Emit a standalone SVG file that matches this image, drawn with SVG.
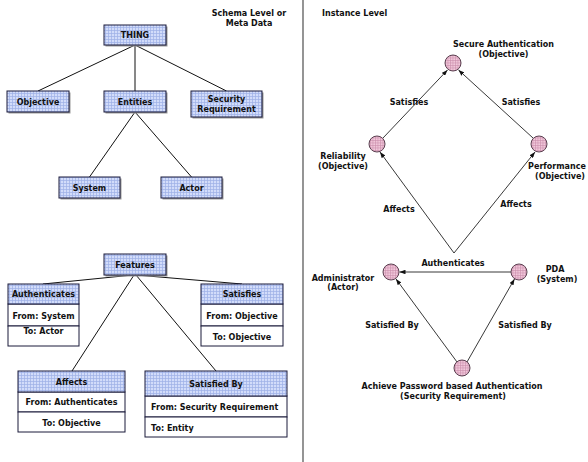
<svg xmlns="http://www.w3.org/2000/svg" width="588" height="462" viewBox="0 0 588 462">
  <style>
    text { font-family: "DejaVu Sans", Verdana, sans-serif; font-size: 8px; font-weight: bold; fill: #111; }
    .c { text-anchor: middle; }
    .box { fill: url(#bluegrid); stroke: #1a1a3a; stroke-width: 1; }
    .shadow { fill: #9a9a9a; }
    .row { fill: #fff; stroke: #1a1a3a; stroke-width: 1; }
    .dot { fill: url(#pinkgrid); stroke: #5a4050; stroke-width: 1; }
    .link { stroke: #111; stroke-width: 1; fill: none; }
    .arrow { stroke: #222; stroke-width: 0.9; fill: none; marker-end: url(#head); }
  </style>
  <defs>
    <pattern id="bluegrid" width="3" height="3" patternUnits="userSpaceOnUse">
      <rect width="3" height="3" fill="#d2dcfa"/>
      <path d="M0 0.5H3M0.5 0V3" stroke="#9db0e6" stroke-width="0.7"/>
    </pattern>
    <pattern id="pinkgrid" width="2.5" height="2.5" patternUnits="userSpaceOnUse">
      <rect width="2.5" height="2.5" fill="#f3c9dc"/>
      <path d="M0 0.5H2.5M0.5 0V2.5" stroke="#c98aa9" stroke-width="0.6"/>
    </pattern>
    <marker id="head" viewBox="0 0 8 6" refX="8" refY="3" markerWidth="6" markerHeight="4.5" markerUnits="userSpaceOnUse" orient="auto">
      <path d="M0 0L8 3L0 6z" fill="#111"/>
    </marker>
  </defs>

  <rect width="588" height="462" fill="#fff"/>

  <!-- column divider -->
  <line x1="303" y1="0" x2="303" y2="462" stroke="#7a7a7a" stroke-width="1.6"/>

  <!-- section headings -->
  <text class="c" x="249" y="16">Schema Level or</text>
  <text class="c" x="249" y="26">Meta Data</text>
  <text x="322" y="16">Instance Level</text>

  <!-- schema tree connectors -->
  <g id="schema-links">
    <line class="link" x1="135" y1="45" x2="38" y2="91"/>
    <line class="link" x1="135" y1="45" x2="135" y2="91" stroke="#555" stroke-width="1.5"/>
    <line class="link" x1="135" y1="45" x2="226.5" y2="91"/>
    <line class="link" x1="135" y1="112" x2="89.5" y2="177"/>
    <line class="link" x1="135" y1="112" x2="191.5" y2="177"/>
    <line class="link" x1="133" y1="275" x2="43" y2="284"/>
    <line class="link" x1="136" y1="275" x2="242" y2="284"/>
    <line class="link" x1="134" y1="275" x2="72" y2="371"/>
    <line class="link" x1="136" y1="275" x2="216" y2="371"/>
  </g>

  <g id="thing">
    <rect class="shadow" x="105.5" y="26.5" width="62" height="20"/>
    <rect class="box" x="104" y="25" width="62" height="20"/>
    <text class="c" x="135" y="38">THING</text>
  </g>
  <g id="objective">
    <rect class="shadow" x="8.5" y="92.5" width="62" height="21"/>
    <rect class="box" x="7" y="91" width="62" height="21"/>
    <text class="c" x="38" y="104.5">Objective</text>
  </g>
  <g id="entities">
    <rect class="shadow" x="105.5" y="92.5" width="62" height="21"/>
    <rect class="box" x="104" y="91" width="62" height="21"/>
    <text class="c" x="135" y="104.5">Entities</text>
  </g>
  <g id="security-requirement">
    <rect class="shadow" x="192.5" y="92.5" width="71" height="26"/>
    <rect class="box" x="191" y="91" width="71" height="26"/>
    <text class="c" x="226.5" y="102">Security</text>
    <text class="c" x="226.5" y="112">Requirement</text>
  </g>
  <g id="system">
    <rect class="shadow" x="60.5" y="178.5" width="61" height="21"/>
    <rect class="box" x="59" y="177" width="61" height="21"/>
    <text class="c" x="89.5" y="191">System</text>
  </g>
  <g id="actor">
    <rect class="shadow" x="162.5" y="178.5" width="61" height="21"/>
    <rect class="box" x="161" y="177" width="61" height="21"/>
    <text class="c" x="191.5" y="191">Actor</text>
  </g>

  <g id="features">
    <rect class="shadow" x="105.5" y="255.5" width="62" height="21"/>
    <rect class="box" x="104" y="254" width="62" height="21"/>
    <text class="c" x="135" y="268">Features</text>
  </g>

  <g id="authenticates">
    <rect class="row" x="8" y="304" width="71" height="22"/>
    <rect class="row" x="8" y="326" width="71" height="20"/>
    <rect class="box" x="8" y="284" width="71" height="20"/>
    <text class="c" x="43.5" y="297">Authenticates</text>
    <text class="c" x="43.5" y="319">From: System</text>
    <text class="c" x="43.5" y="334">To: Actor</text>
  </g>
  <g id="satisfies">
    <rect class="row" x="201" y="304" width="82" height="22"/>
    <rect class="row" x="201" y="326" width="82" height="20"/>
    <rect class="box" x="201" y="284" width="82" height="20"/>
    <text class="c" x="242" y="297">Satisfies</text>
    <text class="c" x="242" y="319">From: Objective</text>
    <text class="c" x="242" y="340">To: Objective</text>
  </g>
  <g id="affects">
    <rect class="row" x="18" y="392" width="107" height="20"/>
    <rect class="row" x="18" y="412" width="107" height="20"/>
    <rect class="box" x="18" y="371" width="107" height="21"/>
    <text class="c" x="71.5" y="385">Affects</text>
    <text class="c" x="71.5" y="405">From: Authenticates</text>
    <text class="c" x="71.5" y="426">To: Objective</text>
  </g>
  <g id="satisfied-by">
    <rect class="row" x="145" y="396" width="142" height="21"/>
    <rect class="row" x="145" y="417" width="142" height="20"/>
    <rect class="box" x="145" y="371" width="142" height="25"/>
    <text class="c" x="216" y="387">Satisfied By</text>
    <text x="151" y="410">From: Security Requirement</text>
    <text x="151" y="431">To: Entity</text>
  </g>

  <!-- instance graph connectors -->
  <g id="instance-links">
    <line class="arrow" x1="383" y1="138" x2="447.5" y2="70"/>
    <line class="arrow" x1="533" y1="138" x2="458.5" y2="70"/>
    <line class="arrow" x1="454" y1="253" x2="380" y2="152"/>
    <line class="arrow" x1="454" y1="253" x2="535" y2="152"/>
    <line class="arrow" x1="511" y1="272" x2="399.5" y2="272"/>
    <line class="arrow" x1="457" y1="362" x2="396" y2="279"/>
    <line class="arrow" x1="467" y1="362" x2="514.5" y2="279"/>
    <text class="c" x="409" y="105">Satisfies</text>
    <text class="c" x="521" y="105">Satisfies</text>
    <text class="c" x="399" y="212">Affects</text>
    <text class="c" x="516" y="207">Affects</text>
    <text class="c" x="453" y="266">Authenticates</text>
    <text class="c" x="392" y="328">Satisfied By</text>
    <text class="c" x="525" y="328">Satisfied By</text>
  </g>

  <g id="secure-authentication">
    <circle class="dot" cx="453" cy="63" r="8"/>
    <text class="c" x="503.5" y="47">Secure Authentication</text>
    <text class="c" x="503.5" y="57">(Objective)</text>
  </g>
  <g id="reliability">
    <circle class="dot" cx="377" cy="144" r="8"/>
    <text class="c" x="343" y="159">Reliability</text>
    <text class="c" x="343" y="169">(Objective)</text>
  </g>
  <g id="performance">
    <circle class="dot" cx="539" cy="144" r="8"/>
    <text class="c" x="557" y="169">Performance</text>
    <text class="c" x="560" y="179">(Objective)</text>
  </g>
  <g id="administrator">
    <circle class="dot" cx="391" cy="272" r="8"/>
    <text class="c" x="343" y="281">Administrator</text>
    <text class="c" x="343" y="290">(Actor)</text>
  </g>
  <g id="pda">
    <circle class="dot" cx="519" cy="272" r="8"/>
    <text class="c" x="555" y="272">PDA</text>
    <text class="c" x="557" y="282">(System)</text>
  </g>
  <g id="achieve-password-authentication">
    <circle class="dot" cx="462" cy="368" r="8"/>
    <text class="c" x="452" y="389">Achieve Password based Authentication</text>
    <text class="c" x="453" y="399">(Security Requirement)</text>
  </g>
</svg>
